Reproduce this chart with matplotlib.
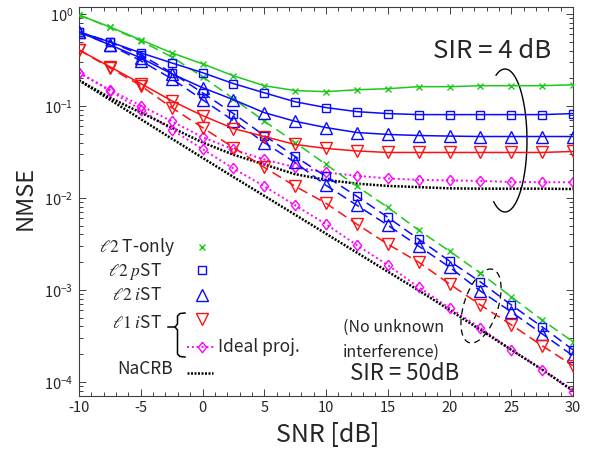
import numpy as np
import matplotlib
matplotlib.use('Agg')
import matplotlib.pyplot as plt
from matplotlib.ticker import MultipleLocator, LogLocator, NullFormatter, FixedLocator

plt.rcParams['font.family'] = ['Noto Sans CJK JP', 'DejaVu Sans']
plt.rcParams['mathtext.fontset'] = 'stix'
plt.rcParams['axes.unicode_minus'] = False

# ---------------- data ----------------
snr = [-10, -7.5, -5, -2.5, 0, 2.5, 5, 7.5, 10, 12.5, 15, 17.5, 20, 22.5, 25, 27.5, 30]

# SIR = 4 dB (solid)
t_only_4 = [0.975, 0.723, 0.523, 0.378, 0.287, 0.213, 0.166, 0.147, 0.143, 0.150, 0.154, 0.162, 0.162, 0.166, 0.166, 0.166, 0.170]
pst_4 = [0.638, 0.497, 0.378, 0.294, 0.230, 0.175, 0.139, 0.111, 0.096, 0.0867, 0.0826, 0.0805, 0.0805, 0.0805, 0.0805, 0.0805, 0.0826]
ist_4 = [0.638, 0.461, 0.333, 0.224, 0.158, 0.117, 0.0846, 0.068, 0.0582, 0.0514, 0.049, 0.0477, 0.047, 0.0465, 0.0465, 0.0465, 0.0465]
l1_4 = [0.407, 0.267, 0.175, 0.114, 0.0785, 0.0568, 0.0465, 0.0381, 0.0345, 0.0324, 0.0312, 0.0312, 0.0312, 0.0312, 0.0312, 0.0312, 0.0320]
ideal_4 = [0.230, 0.150, 0.1008, 0.0681, 0.0459, 0.0336, 0.0262, 0.0215, 0.0189, 0.0174, 0.0163, 0.0157, 0.0155, 0.0153, 0.0149, 0.0148, 0.0148]
crb_4 = [0.190, 0.123, 0.0846, 0.0582, 0.0401, 0.0295, 0.0231, 0.0181, 0.0157, 0.0143, 0.0135, 0.0131, 0.0127, 0.0126, 0.0126, 0.0126, 0.0125]

# SIR = 50 dB (dashed)
t_only_50 = [0.975, 0.714, 0.510, 0.342, 0.208, 0.120, 0.0685, 0.040, 0.0231, 0.0134, 0.0079, 0.00446, 0.00264, 0.00152, 0.00084, 0.00047, 0.000273]
pst_50 = [0.638, 0.497, 0.360, 0.230, 0.139, 0.0826, 0.0477, 0.0282, 0.0171, 0.0104, 0.00616, 0.00356, 0.00206, 0.00122, 0.000686, 0.000396, 0.000223]
ist_50 = [0.638, 0.461, 0.310, 0.198, 0.117, 0.0693, 0.040, 0.0243, 0.0137, 0.00832, 0.00505, 0.00299, 0.00177, 0.000973, 0.000576, 0.000333, 0.000192]
l1_50 = [0.407, 0.260, 0.166, 0.0959, 0.0582, 0.0353, 0.0215, 0.0134, 0.00873, 0.00518, 0.00314, 0.00200, 0.00116, 0.000686, 0.000417, 0.000247, 0.000150]
ideal_50 = [0.230, 0.146, 0.0912, 0.0554, 0.0340, 0.0209, 0.0134, 0.0083, 0.00518, 0.00306, 0.00186, 0.00107, 0.000637, 0.000387, 0.000223, 0.000136, 0.0000783]
crb_50 = [0.190, 0.117, 0.0719, 0.0442, 0.0273, 0.0169, 0.01054, 0.00656, 0.00408, 0.00254, 0.00158, 0.000986, 0.000605, 0.000368, 0.000223, 0.000136, 0.0000803]

x_ticks = [-10, -5, 0, 5, 10, 15, 20, 25, 30]
legend_labels = [r'$\ell2$ T-only', r'$\ell2\ p$ST', r'$\ell2\ i$ST', r'$\ell1\ i$ST', 'Ideal proj.', 'NaCRB']

# ---------------- style ----------------
GREEN = '#1ec81e'
BLUE = '#0a0aff'
RED = '#ff1010'
MAG = '#ff00ff'
BLACK = '#000000'
AX_COL = '#404040'
TXT = '#262626'

diamond = [(0, 1), (0.8, 0), (0, -1), (-0.8, 0), (0, 1)]

W, H = 601, 454
fig = plt.figure(figsize=(W / 100, H / 100), dpi=100)
L, R, T, B = 79, 573, 6.7, 395.5
ax = fig.add_axes([L / W, 1 - B / H, (R - L) / W, (B - T) / H])


def axf(px, py):
    return ((px - L) / (R - L), (B - py) / (B - T))


lw = 1.1
mew = 1.0
dash = (0, (6.5, 3.5))
series = [
    (t_only_4, t_only_50, GREEN, 'x', 4.8),
    (pst_4, pst_50, BLUE, 's', 6.0),
    (ist_4, ist_50, BLUE, '^', 8.4),
    (l1_4, l1_50, RED, 'v', 8.4),
]

# ideal proj lines, then NaCRB, then ideal markers
for yv in (ideal_4, ideal_50):
    ax.plot(snr, yv, color=MAG, lw=1.4, ls=(0, (1, 1.5)), zorder=2)
for yv in (crb_4, crb_50):
    ax.plot(snr, yv, color=BLACK, lw=1.8, ls=(0, (0.8, 0.6)), zorder=2.2)
for yv in (ideal_4, ideal_50):
    ax.plot(snr, yv, ls='none', marker=diamond, ms=7.5, mfc='none', mec=MAG, mew=mew, zorder=2.4)

for y4, y50, c, m, ms in series:
    ax.plot(snr, y50, color=c, lw=lw, ls=dash, marker=m, ms=ms, mfc='none', mec=c, mew=mew, zorder=3)
    ax.plot(snr, y4, color=c, lw=lw, marker=m, ms=ms, mfc='none', mec=c, mew=mew, zorder=3)

ax.set_yscale('log')
ax.set_xlim(-10, 30)
ax.set_ylim(7.1e-5, 1.2)
ax.xaxis.set_major_locator(FixedLocator(x_ticks))
ax.xaxis.set_minor_locator(MultipleLocator(1))
ax.yaxis.set_major_locator(LogLocator(base=10, numticks=10))
ax.yaxis.set_minor_locator(LogLocator(base=10, subs=np.arange(2, 10), numticks=20))
ax.yaxis.set_minor_formatter(NullFormatter())

for s in ax.spines.values():
    s.set_color(AX_COL)
    s.set_linewidth(0.8)
ax.tick_params(which='both', direction='in', top=True, right=True, color=AX_COL, width=0.7)
ax.tick_params(which='major', length=5, labelsize=10.5, labelcolor=TXT, pad=4)
ax.tick_params(which='minor', length=3)

ax.set_xlabel('SNR [dB]', fontsize=18, color=TXT, va='center')
ax.set_ylabel('NMSE', fontsize=17, color=TXT, va='center')
ax.xaxis.set_label_coords((328 - L) / (R - L), (B - 435) / (B - T))
ax.yaxis.set_label_coords((25 - L) / (R - L), (B - 198) / (B - T))

# ---------------- annotations ----------------
ax.text(*axf(492, 51), 'SIR = 4 dB', transform=ax.transAxes, ha='center', va='center', fontsize=18.5, color=TXT)
ax.text(*axf(343, 327), '(No unknown', transform=ax.transAxes, ha='left', va='center', fontsize=11.5, color=TXT)
ax.text(*axf(343, 352), 'interference)', transform=ax.transAxes, ha='left', va='center', fontsize=11.5, color=TXT)
ax.text(*axf(350, 374), 'SIR = 50dB', transform=ax.transAxes, ha='left', va='center', fontsize=16, color=TXT)

# solid arc (SIR = 4 dB)
t = np.deg2rad(np.linspace(-121, 114, 200))
cx, cy, a, b = 505, 140.5, 22, 71.5
px = cx + a * np.cos(t)
py = cy - b * np.sin(t)
xy = np.array([axf(u, v) for u, v in zip(px, py)])
ax.plot(xy[:, 0], xy[:, 1], transform=ax.transAxes, color=BLACK, lw=1.0, clip_on=False)

# dashed tilted ellipse (SIR = 50 dB)
t = np.linspace(0, 2 * np.pi, 300)
cx, cy, A, Bm, phi = 481, 306, 38.5, 17, np.deg2rad(72)
ex = A * np.cos(t)
ey = Bm * np.sin(t)
px = cx + ex * np.cos(phi) - ey * np.sin(phi)
py = cy - (ex * np.sin(phi) + ey * np.cos(phi))
xy = np.array([axf(u, v) for u, v in zip(px, py)])
ax.plot(xy[:, 0], xy[:, 1], transform=ax.transAxes, color=BLACK, lw=0.9, ls=(0, (5, 3.5)), clip_on=False)

# ---------------- custom legend ----------------
fs_leg = 12.5
mk_x = 202
ax.text(*axf(175, 247), legend_labels[0], transform=ax.transAxes, ha='right', va='center', fontsize=fs_leg, color=TXT)
ax.text(*axf(162, 271), legend_labels[1], transform=ax.transAxes, ha='right', va='center', fontsize=fs_leg, color=TXT)
ax.text(*axf(162, 295), legend_labels[2], transform=ax.transAxes, ha='right', va='center', fontsize=fs_leg, color=TXT)
ax.text(*axf(162, 323), legend_labels[3], transform=ax.transAxes, ha='right', va='center', fontsize=fs_leg, color=TXT)
ax.text(*axf(218, 347), legend_labels[4], transform=ax.transAxes, ha='left', va='center', fontsize=fs_leg, color=TXT)
ax.text(*axf(173, 369), legend_labels[5], transform=ax.transAxes, ha='right', va='center', fontsize=fs_leg, color=TXT)

for (yy, c, m, ms) in [(247, GREEN, 'x', 4.8), (270, BLUE, 's', 6.0), (295, BLUE, '^', 8.4), (319, RED, 'v', 8.4)]:
    ax.plot(*[[v] for v in axf(mk_x, yy)], transform=ax.transAxes, ls='none', marker=m, ms=ms,
            mfc='none', mec=c, mew=mew, clip_on=False)
p1, p2 = axf(187, 347), axf(215, 347)
ax.plot([p1[0], p2[0]], [p1[1], p2[1]], transform=ax.transAxes, color=MAG, lw=1.4, ls=(0, (1, 1.5)))
ax.plot(*[[v] for v in axf(mk_x, 347)], transform=ax.transAxes, ls='none', marker=diamond, ms=7.5,
        mfc='none', mec=MAG, mew=mew)
p1, p2 = axf(187, 373), axf(213, 373)
ax.plot([p1[0], p2[0]], [p1[1], p2[1]], transform=ax.transAxes, color=BLACK, lw=1.8, ls=(0, (0.8, 0.6)))

# brace
bx = [185, 180, 177.5, 177.5, 175, 168]
by = [313, 313.5, 316, 324, 327, 327]
bx2 = [175, 177.5, 177.5, 180, 185]
by2 = [327, 330, 354, 356.5, 357]
xy = np.array([axf(u, v) for u, v in zip(bx, by)])
ax.plot(xy[:, 0], xy[:, 1], transform=ax.transAxes, color=BLACK, lw=1.1)
xy = np.array([axf(u, v) for u, v in zip(bx2, by2)])
ax.plot(xy[:, 0], xy[:, 1], transform=ax.transAxes, color=BLACK, lw=1.1)

fig.savefig('out.png', dpi=100)
